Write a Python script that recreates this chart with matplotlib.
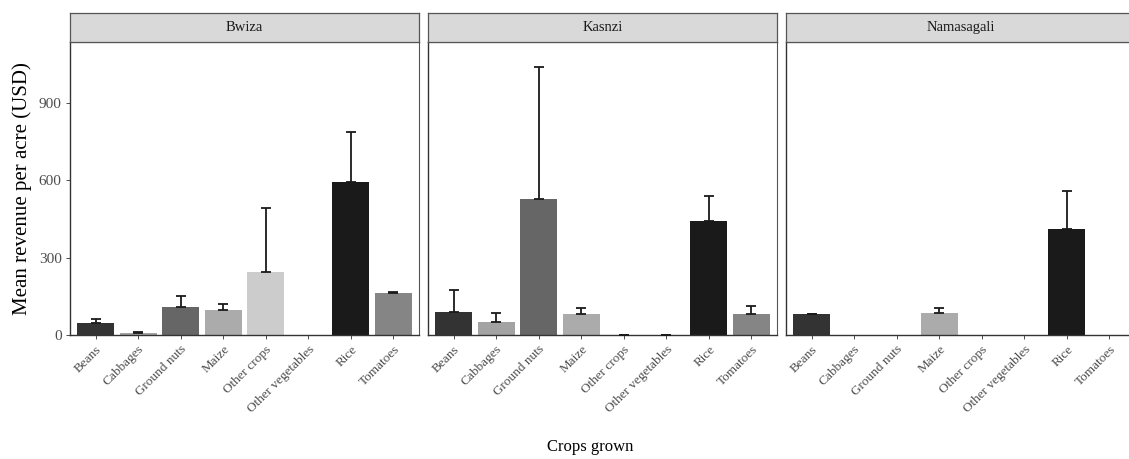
import numpy as np
import matplotlib.pyplot as plt

plt.rcParams['font.family'] = ['Liberation Serif', 'DejaVu Serif']

crops = ["Beans", "Cabbages", "Ground nuts", "Maize", "Other crops",
         "Other vegetables", "Rice", "Tomatoes"]
sites = ["Bwiza", "Kasnzi", "Namasagali"]

nan = np.nan
# mean revenue per acre (USD) and standard error, by site
bwiza_mean = [48, 6, 107, 98, 244, nan, 592, 163]
bwiza_se = [16, 7, 43, 23, 249, nan, 196, 2]
kasnzi_mean = [89, 52, 526, 80, 0, 0, 441, 82]
kasnzi_se = [87, 34, 513, 23, 0, 0, 99, 31]
namasagali_mean = [81, nan, nan, 86, nan, nan, 413, nan]
namasagali_se = [2, nan, nan, 18, nan, nan, 145, nan]

means = [bwiza_mean, kasnzi_mean, namasagali_mean]
ses = [bwiza_se, kasnzi_se, namasagali_se]

fills = ["#333333", "#a3a3a3", "#666666", "#ababab", "#cccccc",
         "#e0e0e0", "#1a1a1a", "#858585"]

fig = plt.figure(figsize=(11.29, 4.59), dpi=100)

W, H = 1129, 459
lefts = [70, 428, 786]
pw = 349
top, bottom, strip_top = 42, 335, 13

x = np.arange(len(crops))
for i, site in enumerate(sites):
    ax = fig.add_axes([lefts[i] / W, 1 - bottom / H, pw / W, (bottom - top) / H])
    m = np.array(means[i], dtype=float)
    s = np.array(ses[i], dtype=float)
    ok = ~np.isnan(m)
    ax.bar(x[ok], m[ok], width=0.87, color=[fills[k] for k in x[ok]],
           edgecolor="none", zorder=2)
    # error bars from the mean up to mean + se
    ax.errorbar(x[ok], m[ok] + s[ok] / 2, yerr=s[ok] / 2, fmt="none",
                ecolor="#1a1a1a", elinewidth=1.3, capsize=3.6, capthick=1.3,
                zorder=3)
    ax.set_xlim(-0.6, len(crops) - 0.4)
    ax.set_ylim(0, 1137)
    ax.set_xticks(x)
    ax.set_xticklabels(crops, rotation=45, ha="right", va="top",
                       rotation_mode="anchor", fontsize=9.5, color="#4d4d4d")
    ax.set_yticks([0, 300, 600, 900])
    if i == 0:
        ax.set_yticklabels(["0", "300", "600", "900"], fontsize=11,
                           color="#4d4d4d")
        ax.set_ylabel("Mean revenue per acre (USD)", fontsize=15,
                      color="black", labelpad=5)
    else:
        ax.tick_params(axis="y", left=False, labelleft=False)
    ax.tick_params(axis="both", length=3, width=0.7, color="#4d4d4d", pad=3)
    for sp in ax.spines.values():
        sp.set_color("#555555")
        sp.set_linewidth(0.8)
    ax.spines["bottom"].set_color("#333333")
    ax.spines["bottom"].set_linewidth(1.0)
    ax.spines["left"].set_color("#333333")
    ax.spines["left"].set_linewidth(1.0)

    # facet strip
    sax = fig.add_axes([lefts[i] / W, 1 - top / H, pw / W, (top - strip_top) / H])
    sax.set_facecolor("#d9d9d9")
    sax.set_xticks([])
    sax.set_yticks([])
    for sp in sax.spines.values():
        sp.set_color("#555555")
        sp.set_linewidth(0.9)
    sax.text(0.5, 0.5, site, ha="center", va="center", fontsize=10.5,
             color="#1a1a1a", transform=sax.transAxes)

fig.text(590 / W, 1 - 447 / H, "Crops grown", ha="center",
         va="center", fontsize=12)

fig.savefig("out.png", dpi=100)
